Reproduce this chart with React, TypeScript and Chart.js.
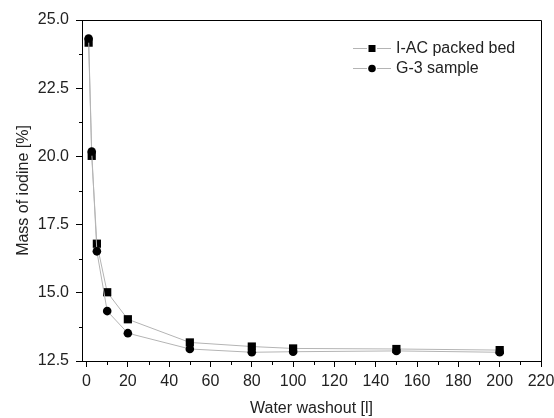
import React, { useEffect, useRef } from "react";
import { Chart, registerables } from "chart.js";

Chart.register(...registerables);

const washout = [1, 2.5, 5, 10, 20, 50, 80, 100, 150, 200];
const iacPackedBed = [24.17, 20.02, 16.8, 15.02, 14.03, 13.18, 13.03, 12.96, 12.94, 12.9];
const g3Sample = [24.32, 20.18, 16.52, 14.33, 13.52, 12.94, 12.82, 12.84, 12.87, 12.82];
const xTicks = [0, 20, 40, 60, 80, 100, 120, 140, 160, 180, 200, 220];
const xMinorTicks = [10, 30, 50, 70, 90, 110, 130, 150, 170, 190, 210];
const yTicks = [12.5, 15.0, 17.5, 20.0, 22.5, 25.0];
const yMinorTicks = [13.75, 16.25, 18.75, 21.25, 23.75];
const legendLabels = ["I-AC packed bed", "G-3 sample"];

const FONT = "'Liberation Sans', Arial, sans-serif";
const TEXT = "#222";
const LINE = "#b4b4b4";

export default function App() {
  const ref = useRef<HTMLCanvasElement | null>(null);

  useEffect(() => {
    if (!ref.current) return;

    const extras = {
      id: "extras",
      afterDraw(chart: any) {
        const { ctx, chartArea } = chart;
        const xs = chart.scales.x;
        const ys = chart.scales.y;
        const L = Math.round(chartArea.left) + 0.5;
        const R = Math.round(chartArea.right) + 0.5;
        const T = Math.round(chartArea.top) + 0.5;
        const B = Math.round(chartArea.bottom) + 0.5;
        ctx.save();
        ctx.strokeStyle = "#000";
        ctx.lineWidth = 1;
        ctx.beginPath();
        ctx.moveTo(L - 0.5, T);
        ctx.lineTo(R, T);
        ctx.lineTo(R, B);
        ctx.stroke();
        ctx.beginPath();
        xMinorTicks.forEach((v) => {
          const px = Math.round(xs.getPixelForValue(v)) + 0.5;
          ctx.moveTo(px, B);
          ctx.lineTo(px, B + 3.5);
        });
        yMinorTicks.forEach((v) => {
          const py = Math.round(ys.getPixelForValue(v)) + 0.5;
          ctx.moveTo(L, py);
          ctx.lineTo(L - 3.5, py);
        });
        ctx.stroke();

        // legend
        const rows = [
          { y: 48.5, style: "rect" },
          { y: 68.5, style: "circle" },
        ];
        rows.forEach((r, i) => {
          ctx.strokeStyle = LINE;
          ctx.lineWidth = 1;
          ctx.beginPath();
          ctx.moveTo(353, r.y);
          ctx.lineTo(367, r.y);
          ctx.moveTo(377, r.y);
          ctx.lineTo(391, r.y);
          ctx.stroke();
          ctx.fillStyle = "#000";
          if (r.style === "rect") {
            ctx.fillRect(368.5, r.y - 3.5, 7, 7);
          } else {
            ctx.beginPath();
            ctx.arc(372, r.y, 3.8, 0, Math.PI * 2);
            ctx.fill();
          }
          ctx.fillStyle = TEXT;
          ctx.font = `16px ${FONT}`;
          ctx.textBaseline = "middle";
          ctx.textAlign = "left";
          ctx.fillText(legendLabels[i], 396, r.y + 0.5);
        });
        ctx.restore();
      },
    };

    const chart = new Chart(ref.current, {
      type: "line",
      data: {
        datasets: [
          {
            label: legendLabels[0],
            data: washout.map((x, i) => ({ x, y: iacPackedBed[i] })),
            borderColor: LINE,
            borderWidth: 1,
            pointStyle: "rect",
            pointRadius: 5.8,
            pointBackgroundColor: "#000",
            pointBorderColor: "#000",
            pointBorderWidth: 0,
            tension: 0,
            order: 2,
          },
          {
            label: legendLabels[1],
            data: washout.map((x, i) => ({ x, y: g3Sample[i] })),
            borderColor: LINE,
            borderWidth: 1,
            pointStyle: "circle",
            pointRadius: 4.3,
            pointBackgroundColor: "#000",
            pointBorderColor: "#000",
            pointBorderWidth: 0,
            tension: 0,
            order: 1,
          },
        ],
      },
      options: {
        responsive: false,
        animation: false,
        layout: { padding: { top: 20, right: 13, left: 0, bottom: 0 } },
        plugins: {
          legend: { display: false },
          tooltip: { enabled: false },
        },
        scales: {
          x: {
            type: "linear",
            min: -2.2,
            max: 220,
            afterBuildTicks: (s: any) => {
              s.ticks = xTicks.map((v) => ({ value: v }));
            },
            afterFit: (s: any) => {
              s.height = 57;
              s.paddingLeft = 0;
              s.paddingRight = 0;
            },
            ticks: {
              color: TEXT,
              font: { family: FONT, size: 16 },
              padding: 5,
              maxRotation: 0,
              autoSkip: false,
              callback: (v: any) => String(v),
            },
            grid: {
              display: true,
              drawOnChartArea: false,
              drawTicks: true,
              tickLength: 6,
              tickColor: "#000",
              tickWidth: 1,
            },
            border: { display: true, color: "#000", width: 1 },
            title: {
              display: true,
              text: "Water washout [l]",
              color: TEXT,
              font: { family: FONT, size: 16 },
              padding: { top: 0, bottom: 0 },
            },
          },
          y: {
            type: "linear",
            min: 12.5,
            max: 25,
            afterBuildTicks: (s: any) => {
              s.ticks = yTicks.map((v) => ({ value: v }));
            },
            afterFit: (s: any) => {
              s.width = 82;
              s.paddingTop = 0;
              s.paddingBottom = 0;
            },
            ticks: {
              color: TEXT,
              font: { family: FONT, size: 16 },
              padding: 7,
              autoSkip: false,
              callback: (v: any) => Number(v).toFixed(1),
            },
            grid: {
              display: true,
              drawOnChartArea: false,
              drawTicks: true,
              tickLength: 6,
              tickColor: "#000",
              tickWidth: 1,
            },
            border: { display: true, color: "#000", width: 1 },
            title: {
              display: true,
              text: "Mass of iodine [%]",
              color: TEXT,
              font: { family: FONT, size: 16 },
              padding: { top: 14, bottom: 0 },
            },
          },
        },
      },
      plugins: [extras],
    });

    return () => chart.destroy();
  }, []);

  return (
    <div style={{ position: "fixed", left: 0, top: 0, width: 554, height: 418, background: "#fff" }}>
      <canvas ref={ref} width={554} height={418} style={{ display: "block" }} />
    </div>
  );
}
